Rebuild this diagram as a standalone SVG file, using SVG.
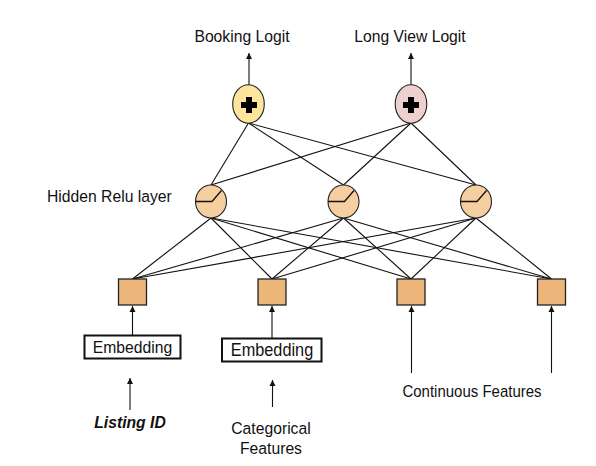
<svg xmlns="http://www.w3.org/2000/svg" width="596" height="466" viewBox="0 0 596 466">
<style>
text{font-family:"Liberation Sans",Arial,sans-serif;font-size:15.7px;fill:#111}
.edge{stroke:#111;stroke-width:1.1;fill:none}
.arr{stroke:#111;stroke-width:1.1;fill:none;marker-end:url(#ah)}
.hid{fill:#f6cfa0;stroke:#222;stroke-width:1.1}
.sq{fill:#ecb579;stroke:#222;stroke-width:1.3}
.emb{fill:#fff;stroke:#111;stroke-width:2}
.relu{stroke:#111;stroke-width:1.3;fill:none}
</style>
<defs>
<marker id="ah" viewBox="0 0 6 8" refX="6" refY="4" markerWidth="6" markerHeight="8" markerUnits="userSpaceOnUse" orient="auto">
<path d="M0,1 L6,4 L0,7 Z" fill="#111"/>
</marker>
<path id="plus" d="M-3,-8 H3 V-3 H8 V3 H3 V8 H-3 V3 H-8 V-3 H-3 Z" fill="#000"/>
</defs>
<rect width="596" height="466" fill="#fff"/>
<g id="connectors">
<line class="edge" x1="248.5" y1="123" x2="211" y2="185"/>
<line class="edge" x1="248.5" y1="123" x2="343.5" y2="185"/>
<line class="edge" x1="248.5" y1="123" x2="476" y2="185"/>
<line class="edge" x1="411" y1="123" x2="211" y2="185"/>
<line class="edge" x1="411" y1="123" x2="343.5" y2="185"/>
<line class="edge" x1="411" y1="123" x2="476" y2="185"/>
<line class="edge" x1="211" y1="218" x2="132.5" y2="279"/>
<line class="edge" x1="211" y1="218" x2="272" y2="279"/>
<line class="edge" x1="211" y1="218" x2="411" y2="279"/>
<line class="edge" x1="211" y1="218" x2="551.5" y2="279"/>
<line class="edge" x1="343.5" y1="218" x2="132.5" y2="279"/>
<line class="edge" x1="343.5" y1="218" x2="272" y2="279"/>
<line class="edge" x1="343.5" y1="218" x2="411" y2="279"/>
<line class="edge" x1="343.5" y1="218" x2="551.5" y2="279"/>
<line class="edge" x1="476" y1="218" x2="132.5" y2="279"/>
<line class="edge" x1="476" y1="218" x2="272" y2="279"/>
<line class="edge" x1="476" y1="218" x2="411" y2="279"/>
<line class="edge" x1="476" y1="218" x2="551.5" y2="279"/>
<line class="arr" x1="249" y1="85" x2="249" y2="53"/>
<line class="arr" x1="411" y1="85" x2="411" y2="53"/>
<line class="arr" x1="132.5" y1="335.5" x2="132.5" y2="306"/>
<line class="arr" x1="272" y1="338" x2="272" y2="306"/>
<line class="arr" x1="411.5" y1="373" x2="411.5" y2="306"/>
<line class="arr" x1="551.5" y1="373" x2="551.5" y2="306"/>
<line class="arr" x1="130" y1="410" x2="130" y2="378"/>
<line class="arr" x1="272.5" y1="407" x2="272.5" y2="380"/>
</g>
<g id="booking">
<ellipse cx="248.5" cy="104" rx="15.8" ry="19.2" fill="#fde59b" stroke="#222" stroke-width="1.1"/>
<use href="#plus" x="249" y="105"/>
</g>
<g id="longview">
<ellipse cx="411" cy="104" rx="15.8" ry="19.2" fill="#efd0d0" stroke="#222" stroke-width="1.1"/>
<use href="#plus" x="411" y="105"/>
</g>
<g id="hidden1">
<ellipse class="hid" cx="211" cy="201.5" rx="15.5" ry="16.5"/>
<path class="relu" d="M195.5,201.5 H212 L221.5,190.5"/>
</g>
<g id="hidden2">
<ellipse class="hid" cx="343.5" cy="201.5" rx="15.5" ry="16.5"/>
<path class="relu" d="M328,201.5 H344.5 L354,190.5"/>
</g>
<g id="hidden3">
<ellipse class="hid" cx="476" cy="201.5" rx="15.5" ry="16.5"/>
<path class="relu" d="M460.5,201.5 H477 L486.5,190.5"/>
</g>
<g id="sq1"><rect class="sq" x="118.5" y="279" width="28" height="26"/></g>
<g id="sq2"><rect class="sq" x="258" y="279" width="28" height="26"/></g>
<g id="sq3"><rect class="sq" x="397" y="279" width="28" height="26"/></g>
<g id="sq4"><rect class="sq" x="537.5" y="279" width="28" height="26"/></g>
<g id="embedding1">
<rect class="emb" x="84.5" y="335.5" width="96" height="23"/>
<text x="132.5" y="353" text-anchor="middle" transform="matrix(1 0 0 1.1 0 -35.3)">Embedding</text>
</g>
<g id="embedding2">
<rect class="emb" x="222" y="338.5" width="99.5" height="23"/>
<text x="272" y="356" text-anchor="middle" style="font-size:16.3px" transform="matrix(1 0 0 1.1 0 -35.6)">Embedding</text>
</g>
<g id="labels">
<text x="242" y="42" text-anchor="middle" transform="matrix(1 0 0 1.1 0 -4.2)">Booking Logit</text>
<text x="410" y="42" text-anchor="middle" transform="matrix(1 0 0 1.1 0 -4.2)">Long View Logit</text>
<text x="47" y="202" transform="matrix(1 0 0 1.1 0 -20.2)">Hidden Relu layer</text>
<text x="130" y="428.5" text-anchor="middle" style="font-weight:bold;font-style:italic" transform="matrix(1 0 0 1.1 0 -42.85)">Listing ID</text>
<text x="271" y="434" text-anchor="middle" transform="matrix(1 0 0 1.1 0 -43.4)">Categorical</text>
<text x="271" y="454" text-anchor="middle" transform="matrix(1 0 0 1.1 0 -45.4)">Features</text>
<text x="472" y="397" text-anchor="middle" style="font-size:15px" transform="matrix(1 0 0 1.1 0 -39.7)">Continuous Features</text>
</g>
</svg>
